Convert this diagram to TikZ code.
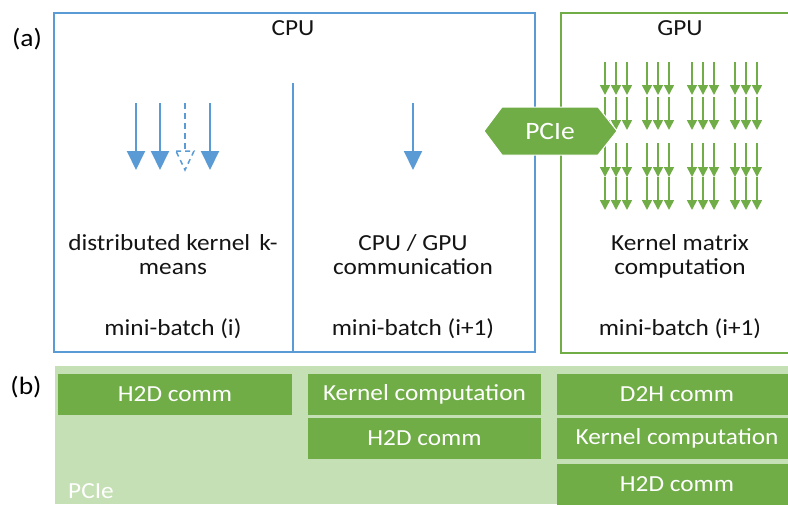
\documentclass[tikz,border=0pt]{standalone}
\usepackage{fontspec}
\setmainfont{Carlito}[FakeStretch=1.10]
\usetikzlibrary{arrows.meta}
\definecolor{cpublue}{HTML}{5B9BD5}
\definecolor{gpugreen}{HTML}{70AD47}
\definecolor{palegreen}{HTML}{C5E0B4}
\definecolor{ink}{HTML}{141414}

\begin{document}
\begin{tikzpicture}[x=1pt,y=-1pt,
  txt/.style={font=\fontsize{23}{25}\selectfont, text=ink, inner sep=0pt, anchor=base},
  tag/.style={font=\fontsize{25}{28}\selectfont, text=black, inner sep=0pt, anchor=base},
  panel/.style={line width=2pt, inner sep=0pt, outer sep=0pt, anchor=north west},
  task/.style={fill=gpugreen, text=white, font=\fontsize{23}{25}\selectfont,
    inner sep=0pt, outer sep=0pt, minimum height=41pt, anchor=north west},
  bluearrow/.style={draw=cpublue, line width=2pt, -{Triangle[width=18pt,length=19pt]}, cpublue},
  greenarrow/.style={draw=gpugreen, line width=1.6pt, -{Triangle[width=10pt,length=10pt]}, gpugreen}]
\path[use as bounding box, clip] (0,0) rectangle (788,504);

% panel labels
\node[tag] (la) at (27,46) {(a)};
\node[tag] (lb) at (26,394) {(b)};

% CPU and GPU frames
\node[panel, draw=cpublue, minimum width=481pt, minimum height=339pt] (cpu) at (54,13) {};
\node[panel, draw=gpugreen, minimum width=240pt, minimum height=340pt] (gpu) at (561,13) {};
\draw[cpublue, line width=2pt] (293,83) -- (293,352);

\node[txt] (cputitle) at (293,35) {CPU};
\node[txt] (gputitle) at (680,35) {GPU};

% CPU left: kernel k-means workers
\foreach \x in {136,160,210} \draw[bluearrow] (\x,103) -- (\x,170);
\draw[cpublue, line width=2pt, dash pattern=on 6pt off 4pt] (185,103) -- (185,151);
\draw[cpublue, line width=1.5pt, dash pattern=on 5pt off 4pt] (176,151) -- (194,151) -- (185,170) -- cycle;

\node[txt] (t1a) at (173,250) {distributed kernel\hspace{0.4em}k-};
\node[txt] (t1b) at (173,274) {means};
\node[txt] (m1) at (173,335) {mini-batch (i)};

% CPU right: transfer
\draw[bluearrow] (413,103) -- (413,170);
\node[txt] (t2a) at (413,250) {CPU / GPU};
\node[txt] (t2b) at (413,274) {communication};
\node[txt] (m2) at (413,335) {mini-batch (i+1)};

% GPU: kernel matrix tiles
\foreach \gx in {605,647,692,735}
  \foreach \dx in {0,11,22}
    \foreach \ya/\yb in {62/95,97/130,143/177,177/210}
      \draw[greenarrow] (\gx+\dx,\ya) -- (\gx+\dx,\yb);
\node[txt] (t3a) at (680,250) {Kernel matrix};
\node[txt] (t3b) at (680,274) {computation};
\node[txt] (m3) at (680,335) {mini-batch (i+1)};

% PCIe link
\fill[gpugreen, draw=white, line width=1pt]
  (484,131) -- (502,107) -- (598,107) -- (617,131) -- (598,155) -- (502,155) -- cycle;
\node[text=white, font=\fontsize{25}{26}\selectfont, inner sep=0pt] (pcie) at (550,131) {PCIe};

% (b) pipeline
\fill[palegreen] (55,366) rectangle (788,504);
\node[task, minimum width=234pt] (h2d1) at (58,374) {H2D comm};
\node[task, minimum width=233pt] (kc1) at (308,374) {Kernel computation};
\node[task, minimum width=233pt] (h2d2) at (308,418) {H2D comm};
\node[task, minimum width=240pt] (d2h) at (557,374) {D2H comm};
\node[task, minimum width=240pt] (kc2) at (557,418) {Kernel computation};
\node[task, minimum width=240pt] (h2d3) at (557,464) {H2D comm};
\node[font=\fontsize{23}{25}\selectfont, text=white, inner sep=0pt, anchor=base west] (pciebus) at (68,498) {PCIe};
\end{tikzpicture}
\end{document}
